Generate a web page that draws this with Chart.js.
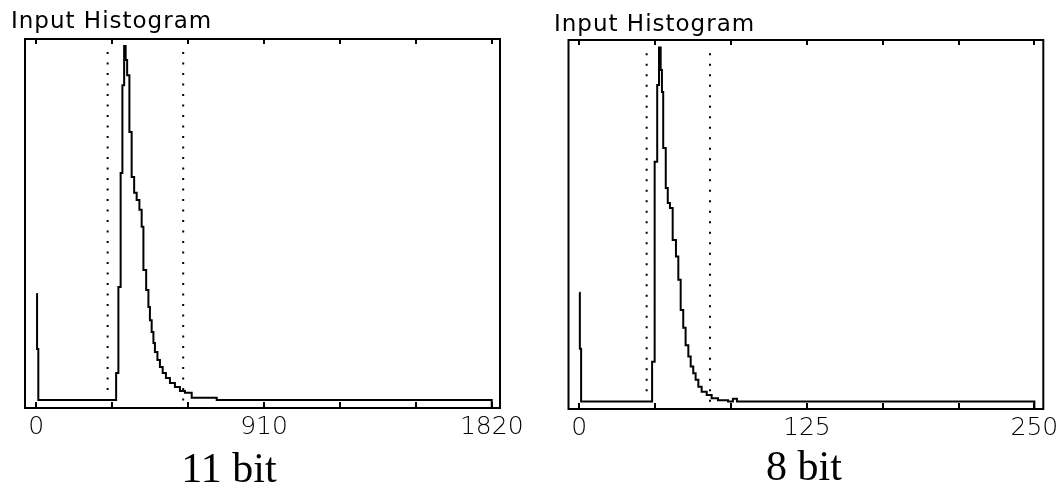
<!DOCTYPE html>
<html><head><meta charset="utf-8">
<script src="https://cdn.jsdelivr.net/npm/chart.js@4"></script>
<style>
html,body{margin:0;padding:0;background:#fff;}
body{width:1061px;height:491px;position:relative;overflow:hidden;}
.box{position:absolute;top:0;height:491px;}
.ttl{position:absolute;font-family:"DejaVu Sans";font-size:23px;letter-spacing:1px;color:#000;line-height:1;white-space:nowrap;}
.cap{position:absolute;font-family:"Liberation Serif";font-size:42px;color:#000;line-height:1;white-space:nowrap;transform:translateX(-50%);}
</style></head>
<body>
<div class="box" style="left:0;width:530px"><canvas id="c11" width="530" height="491"></canvas></div>
<div class="box" style="left:530px;width:531px"><canvas id="c8" width="531" height="491"></canvas></div>
<div class="ttl" style="left:11px;top:9px">Input Histogram</div>
<div class="ttl" style="left:554px;top:12px">Input Histogram</div>
<div class="cap" style="left:229px;top:447px">11 bit</div>
<div class="cap" style="left:804px;top:445px">8 bit</div>
<script>
// ---- 11 bit histogram (relative frequency, % of peak) ----
const bins11 = [0, 3, 8, 319, 328, 337, 344, 351, 357, 363, 372, 381, 391, 401, 412, 421, 428, 439, 448, 454, 461, 468, 474, 484, 494, 505, 518, 534, 554, 574, 594, 621, 721, 1820];
const counts11 = [30.9, 16.0, 2.2, 9.5, 32.8, 63.7, 87.5, 98.1, 94.3, 90.2, 74.8, 62.6, 58.3, 56.4, 53.7, 49.1, 37.4, 32.0, 27.4, 23.8, 20.6, 17.6, 15.2, 13.0, 11.1, 9.5, 8.1, 6.8, 5.7, 4.6, 4.1, 2.8, 2.2, 0];
const cuts11 = [285, 587];
const cutTop11 = [96.5, 96.5];
const cutBottom11 = [4.6, 0.4];
const ticks11 = [0, 303.33, 606.67, 910, 1213.33, 1516.67, 1820];
const labels11 = ['0', '', '', '910', '', '', '1820'];

// ---- 8 bit histogram ----
const bins8 = [0, 0.3, 1, 40, 41.4, 42.8, 43.8, 44.7, 45.4, 46.1, 47.5, 48.6, 49.8, 51.3, 53.1, 54.4, 55.7, 57.1, 58.4, 59.9, 61.2, 62.6, 63.9, 65.4, 67.2, 70.0, 72.7, 76.2, 81.7, 84.4, 86.6, 250];
const counts8 = [31.5, 16.3, 2.0, 12.8, 67.0, 87.8, 98.0, 91.9, 85.9, 70.7, 59.9, 55.8, 54.5, 45.8, 41.3, 35.0, 26.8, 22.0, 17.3, 14.2, 11.5, 9.7, 7.9, 6.0, 4.7, 3.8, 2.9, 2.4, 2.0, 2.8, 2.0, 0];
const cuts8 = [37.0, 71.8];
const cutTop8 = [96.4, 96.4];
const cutBottom8 = [4.4, 1.7];
const ticks8 = [0, 41.67, 83.33, 125, 166.67, 208.33, 250];
const labels8 = ['0', '', '', '125', '', '', '250'];

const framePlugin = {
  id: 'frame',
  afterDatasetsDraw(chart) {
    const {ctx, chartArea: a, scales: {x}} = chart;
    ctx.save();
    ctx.strokeStyle = '#000';
    ctx.lineWidth = 2;
    ctx.strokeRect(a.left, a.top, a.right - a.left, a.bottom - a.top);
    ctx.beginPath();
    x.ticks.forEach(t => {
      const px = Math.round(x.getPixelForValue(t.value));
      ctx.moveTo(px, a.bottom); ctx.lineTo(px, a.bottom - 6);
      ctx.moveTo(px, a.top); ctx.lineTo(px, a.top + 5);
    });
    ctx.stroke();
    ctx.restore();
  }
};

function makeChart(id, bins, counts, cuts, cutTop, cutBottom, tickVals, tickLabels, xmin, xmax, pad) {
  const datasets = [{
    data: bins.map((b, i) => ({x: b, y: counts[i]})),
    borderColor: '#000', borderWidth: 2, pointRadius: 0, stepped: 'before', fill: false
  }];
  cuts.forEach((c, i) => datasets.push({
    data: [{x: c, y: cutTop[i]}, {x: c, y: cutBottom[i]}],
    borderColor: '#000', borderWidth: 2, borderDash: [2, 8.5], pointRadius: 0, fill: false
  }));
  return new Chart(document.getElementById(id), {
    type: 'line',
    data: {datasets},
    plugins: [framePlugin],
    options: {
      responsive: false, animation: false,
      layout: {padding: pad},
      plugins: {legend: {display: false}, tooltip: {enabled: false}, title: {display: false}},
      scales: {
        x: {
          type: 'linear', min: xmin, max: xmax,
          grid: {display: false}, border: {display: false},
          afterBuildTicks: s => { s.ticks = tickVals.map(v => ({value: v})); },
          afterFit: s => { s.height = 40; },
          ticks: {
            autoSkip: false, maxRotation: 0, padding: -4, color: '#000',
            font: {family: 'DejaVu Sans', size: 25, weight: '200'},
            callback: (v, i) => tickLabels[i]
          }
        },
        y: {display: false, min: 0, max: 100}
      }
    }
  });
}

makeChart('c11', bins11, counts11, cuts11, cutTop11, cutBottom11, ticks11, labels11, -45.2, 1853, {left: 25, right: 30, top: 39, bottom: 43});
makeChart('c8', bins8, counts8, cuts8, cutTop8, cutBottom8, ticks8, labels8, -5.93, 254.9, {left: 38.5, right: 17.7, top: 40, bottom: 42});
</script>
</body></html>
